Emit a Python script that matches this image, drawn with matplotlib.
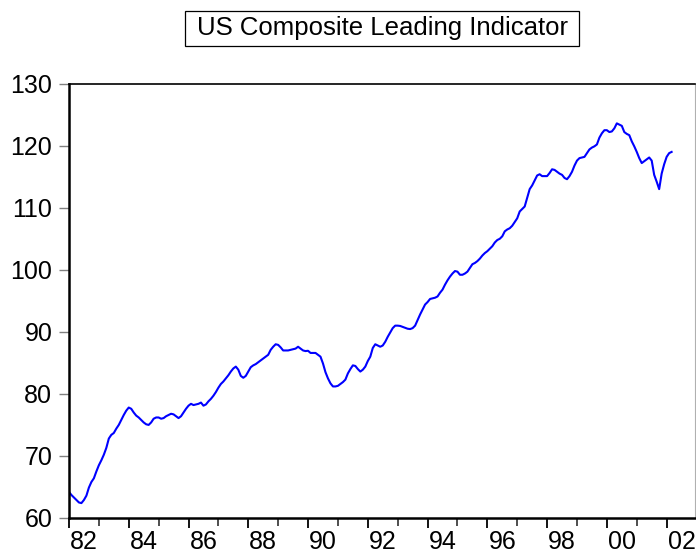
import numpy as np
import matplotlib
matplotlib.use("Agg")
import matplotlib.pyplot as plt
import matplotlib.ticker as ticker
import matplotlib.transforms as mtransforms
from matplotlib.patches import Rectangle

plt.rcParams['font.family'] = ['Liberation Sans', 'DejaVu Sans']

# monthly values, 1982M01 .. 2002M03
cli = [
    64.2, 63.7, 63.3, 62.9, 62.5, 62.4, 62.9, 63.6, 64.9, 65.8, 66.4, 67.5,    # 1982
    68.5, 69.3, 70.2, 71.3, 72.8, 73.4, 73.7, 74.4, 75.0, 75.8, 76.6, 77.3,    # 1983
    77.8, 77.6, 77.0, 76.5, 76.2, 75.8, 75.4, 75.1, 75.0, 75.4, 76.0, 76.2,    # 1984
    76.2, 76.0, 76.1, 76.4, 76.6, 76.8, 76.7, 76.4, 76.1, 76.4, 77.0, 77.6,    # 1985
    78.1, 78.4, 78.2, 78.3, 78.4, 78.6, 78.1, 78.3, 78.8, 79.2, 79.7, 80.3,    # 1986
    81.0, 81.6, 82.0, 82.5, 83.0, 83.6, 84.1, 84.4, 83.9, 82.9, 82.6, 82.9,    # 1987
    83.6, 84.3, 84.6, 84.8, 85.1, 85.4, 85.7, 86.0, 86.3, 87.1, 87.6, 88.0,    # 1988
    87.9, 87.5, 87.0, 87.0, 87.0, 87.1, 87.2, 87.3, 87.6, 87.3, 87.0, 86.9,    # 1989
    86.95, 86.6, 86.6, 86.6, 86.3, 86.0, 84.9, 83.5, 82.5, 81.7, 81.2, 81.2,   # 1990
    81.3, 81.6, 81.9, 82.3, 83.3, 84.0, 84.6, 84.5, 84.0, 83.6, 83.9, 84.4,    # 1991
    85.3, 86.0, 87.4, 88.0, 87.8, 87.6, 87.8, 88.4, 89.2, 89.9, 90.6, 91.0,    # 1992
    91.0, 90.95, 90.8, 90.65, 90.5, 90.45, 90.6, 91.0, 91.9, 92.8, 93.6, 94.4, # 1993
    94.8, 95.3, 95.4, 95.5, 95.7, 96.3, 96.8, 97.6, 98.3, 98.9, 99.4, 99.8,    # 1994
    99.7, 99.2, 99.2, 99.4, 99.7, 100.3, 100.9, 101.1, 101.4, 101.8, 102.3, 102.7,  # 1995
    103.0, 103.4, 103.8, 104.4, 104.8, 105.0, 105.4, 106.2, 106.5, 106.7, 107.1, 107.7,  # 1996
    108.3, 109.4, 109.8, 110.2, 111.6, 113.0, 113.6, 114.4, 115.2, 115.4, 115.1, 115.1,  # 1997
    115.1, 115.6, 116.2, 116.1, 115.8, 115.5, 115.3, 114.8, 114.6, 115.1, 115.8, 116.8,  # 1998
    117.6, 118.0, 118.1, 118.2, 118.8, 119.4, 119.7, 119.9, 120.2, 121.3, 122.0, 122.5,  # 1999
    122.5, 122.2, 122.3, 122.8, 123.6, 123.4, 123.2, 122.2, 121.9, 121.7, 120.7, 119.9,  # 2000
    119.0, 118.0, 117.2, 117.5, 117.8, 118.1, 117.6, 115.3, 114.2, 113.0, 115.5, 117.0,  # 2001
    118.2, 118.8, 119.0,                                                        # 2002
]
start_year = 1982
t = start_year + np.arange(len(cli)) / 12.0

year_ticks = list(range(1982, 2003, 2))
year_labels = ["%02d" % (y % 100) for y in year_ticks]

fig = plt.figure(figsize=(6.96, 5.54), dpi=100)
ax = fig.add_axes([0.0991, 0.065, 0.8995, 0.784])

ax.plot(t, cli, color="#0000ff", linewidth=1.5)

ax.set_xlim(1982, 2002.95)
ax.set_ylim(60, 130)
ax.yaxis.set_major_locator(ticker.MultipleLocator(10))

ax.set_xticks(year_ticks)
ax.set_xticklabels(year_labels)
ax.xaxis.set_minor_locator(ticker.FixedLocator(range(1983, 2003, 2)))

ax.tick_params(axis="y", direction="out", length=7, width=1, color="#808080",
               labelsize=18, pad=5)
ax.tick_params(axis="x", which="major", direction="out", length=7, width=1.3,
               color="black", labelsize=18, pad=1.5)
ax.tick_params(axis="x", which="minor", direction="out", length=5.5, width=1.3,
               color="#404040")

# EViews puts the year label in the middle of the year span
offset = mtransforms.ScaledTranslation(0.15, 0, fig.dpi_scale_trans)
for lab in ax.xaxis.get_majorticklabels():
    lab.set_transform(lab.get_transform() + offset)

ax.spines["left"].set_linewidth(1.8)
ax.spines["bottom"].set_linewidth(1.8)
ax.spines["top"].set_linewidth(1.2)
ax.spines["right"].set_linewidth(0.8)
ax.spines["right"].set_color("#b0b0b0")

# boxed title
fig.patches.append(Rectangle((0.2658, 0.917), 0.5661, 0.0632, transform=fig.transFigure,
                             facecolor="white", edgecolor="black", linewidth=0.9))
fig.text(0.5489, 0.9486, "US Composite Leading Indicator", ha="center", va="center",
         fontsize=18.5)

fig.savefig("out.png", dpi=100)
